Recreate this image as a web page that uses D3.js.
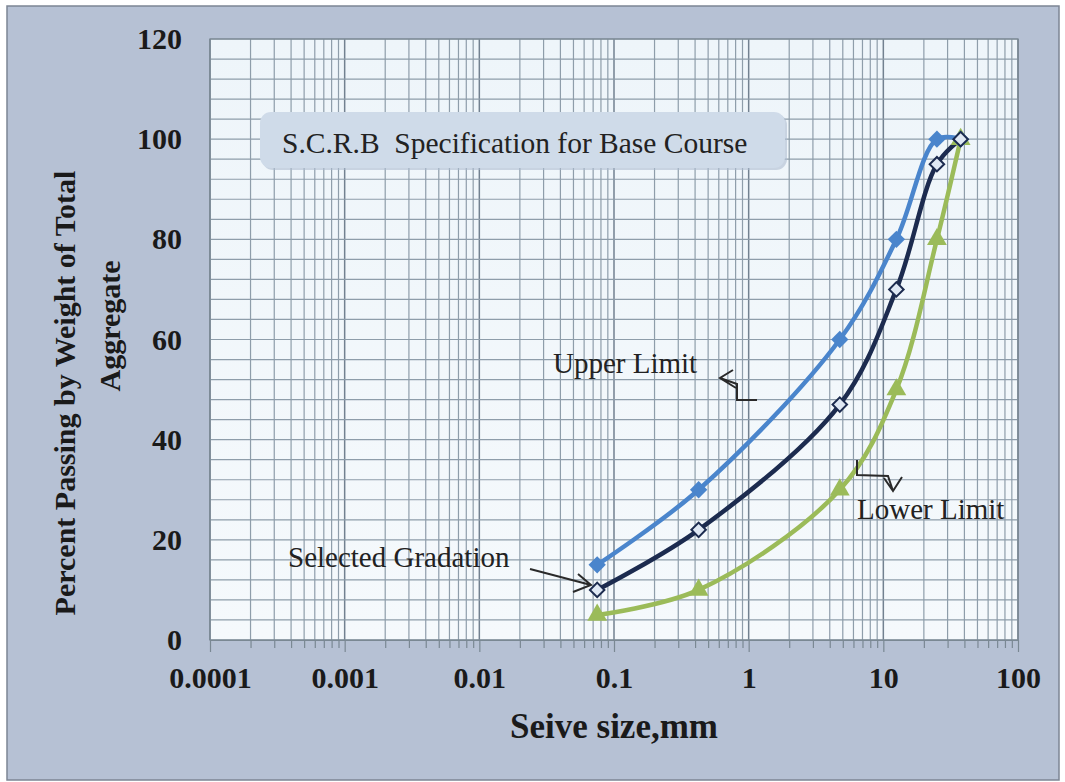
<!DOCTYPE html>
<html><head><meta charset="utf-8">
<script src="https://cdn.jsdelivr.net/npm/d3@7"></script>
<style>body{margin:0;background:#fff}svg{display:block}</style>
</head><body>
<svg id="c" width="1065" height="782"></svg>
<script>
// ---- data ----
const sieveSizes = [0.075, 0.425, 4.75, 12.5, 25, 37.5];
const upperLimit = [15, 30, 60, 80, 100, 100];
const selectedGradation = [10, 22, 47, 70, 95, 100];
const lowerLimit = [5, 10, 30, 50, 80, 100];
const xTickValues = [0.0001, 0.001, 0.01, 0.1, 1, 10, 100];
const xTickLabels = ["0.0001", "0.001", "0.01", "0.1", "1", "10", "100"];
const yTickValues = [0, 20, 40, 60, 80, 100, 120];
const titleText = "S.C.R.B  Specification for Base Course";
const xTitle = "Seive size,mm";
const yTitleLines = ["Percent Passing by Weight of Total", "Aggregate"];

// ---- layout ----
const L = 210, R = 1018, T = 39, B = 640;
const svg = d3.select("#c");
const serif = "'Liberation Serif','Times New Roman',serif";

const x = d3.scaleLog().domain([1e-4, 100]).range([L, R]);
const y = d3.scaleLinear().domain([0, 120]).range([B, T]);

// outer frame
svg.append("rect").attr("x", 7).attr("y", 6).attr("width", 1052).attr("height", 774)
  .attr("fill", "#b6c1d4").attr("stroke", "#7c8594").attr("stroke-width", 1.5);

// plot area
const defs = svg.append("defs");
const g = defs.append("linearGradient").attr("id", "pg").attr("x1", 0).attr("y1", 0).attr("x2", 0).attr("y2", 1);
g.append("stop").attr("offset", "0%").attr("stop-color", "#eef5fa");
g.append("stop").attr("offset", "100%").attr("stop-color", "#f5f9fc");
svg.append("rect").attr("x", L).attr("y", T).attr("width", R - L).attr("height", B - T).attr("fill", "url(#pg)");

// grid
const minorX = x.ticks();
const isDecade = d => Math.abs(Math.log10(d) - Math.round(Math.log10(d))) < 1e-9;
svg.append("g").selectAll("line").data(minorX).join("line")
  .attr("x1", d => x(d)).attr("x2", d => x(d)).attr("y1", T).attr("y2", B)
  .attr("stroke", d => isDecade(d) ? "#728190" : "#8e9daa")
  .attr("stroke-width", d => isDecade(d) ? 1.5 : 1.2);
svg.append("g").selectAll("line").data(d3.range(0, 121, 4)).join("line")
  .attr("x1", L).attr("x2", R).attr("y1", d => y(d)).attr("y2", d => y(d))
  .attr("stroke", "#8e9daa").attr("stroke-width", 1.2);
svg.append("rect").attr("x", L).attr("y", T).attr("width", R - L).attr("height", B - T)
  .attr("fill", "none").attr("stroke", "#7a8893").attr("stroke-width", 1.3);

// x axis
const xa = svg.append("g").attr("transform", `translate(0,${B})`)
  .call(d3.axisBottom(x).tickValues(minorX).tickSize(8).tickPadding(19)
    .tickFormat(d => { const i = xTickValues.findIndex(v => Math.abs(v - d) / v < 1e-9); return i >= 0 ? xTickLabels[i] : ""; }));
xa.select(".domain").attr("stroke", "#7a8893");
xa.selectAll(".tick line").attr("stroke", "#7a8893").attr("stroke-width", 1.2)
  .attr("y2", d => isDecade(d) ? 12 : 8);
xa.selectAll("text").attr("font-family", serif).attr("font-size", 30).attr("font-weight", "bold").attr("fill", "#1a1a1a");

// y axis
const ya = svg.append("g").attr("transform", `translate(${L},0)`)
  .call(d3.axisLeft(y).tickValues(yTickValues).tickSize(0).tickPadding(28));
ya.select(".domain").remove();
ya.selectAll("text").attr("font-family", serif).attr("font-size", 30).attr("font-weight", "bold").attr("fill", "#1a1a1a");

// axis titles
svg.append("text").attr("x", 614).attr("y", 738).attr("text-anchor", "middle")
  .attr("font-family", serif).attr("font-size", 35).attr("font-weight", "bold").attr("fill", "#1a1a1a").text(xTitle);
svg.append("text").attr("transform", "translate(75,393) rotate(-90)").attr("text-anchor", "middle")
  .attr("font-family", serif).attr("font-size", 30).attr("font-weight", "bold").attr("fill", "#1a1a1a").text(yTitleLines[0]);
svg.append("text").attr("transform", "translate(120,326) rotate(-90)").attr("text-anchor", "middle")
  .attr("font-family", serif).attr("font-size", 30).attr("font-weight", "bold").attr("fill", "#1a1a1a").text(yTitleLines[1]);

// title box
svg.append("rect").attr("x", 262).attr("y", 114).attr("width", 525).attr("height", 56).attr("rx", 11)
  .attr("fill", "#aebdd0").attr("opacity", 0.6);
svg.append("rect").attr("x", 260).attr("y", 112).attr("width", 525).attr("height", 56).attr("rx", 11)
  .attr("fill", "#cfdbe9");
svg.append("text").attr("x", 282).attr("y", 153).attr("font-family", serif).attr("font-size", 29.5)
  .attr("fill", "#222").attr("xml:space", "preserve").style("white-space", "pre").text(titleText);

// series
const series = [
  { name: "Lower Limit", vals: lowerLimit, color: "#9bbb59", type: "tri" },
  { name: "Upper Limit", vals: upperLimit, color: "#4a85cc", type: "dia" },
  { name: "Selected Gradation", vals: selectedGradation, color: "#1c2b4f", type: "open" }
];
const line = d3.line().x(d => x(d[0])).y(d => y(d[1])).curve(d3.curveCatmullRom.alpha(0.5));
series.forEach(s => {
  const pts = sieveSizes.map((v, i) => [v, s.vals[i]]);
  svg.append("path").datum(pts).attr("d", line).attr("fill", "none")
    .attr("stroke", s.color).attr("stroke-width", 4.5).attr("stroke-linejoin", "round");
});
series.forEach(s => {
  const pts = sieveSizes.map((v, i) => [v, s.vals[i]]);
  const gg = svg.append("g");
  if (s.type === "tri") {
    gg.selectAll("path").data(pts).join("path")
      .attr("d", d3.symbol(d3.symbolTriangle, 170))
      .attr("transform", d => `translate(${x(d[0])},${y(d[1])})`)
      .attr("fill", s.color);
  } else if (s.type === "dia") {
    gg.selectAll("path").data(pts).join("path")
      .attr("d", d3.symbol(d3.symbolSquare, 150))
      .attr("transform", d => `translate(${x(d[0])},${y(d[1])}) rotate(45)`)
      .attr("fill", s.color);
  } else {
    gg.selectAll("path").data(pts).join("path")
      .attr("d", d3.symbol(d3.symbolSquare, 105))
      .attr("transform", d => `translate(${x(d[0])},${y(d[1])}) rotate(45)`)
      .attr("fill", "#dfe8f4").attr("stroke", s.color).attr("stroke-width", 2);
  }
});

// annotations
const ann = svg.append("g").attr("font-family", serif).attr("font-size", 29).attr("fill", "#222");
ann.append("text").attr("x", 553).attr("y", 373).text("Upper Limit");
ann.append("text").attr("x", 857).attr("y", 519).text("Lower Limit");
ann.append("text").attr("x", 288).attr("y", 567).text("Selected Gradation");
const st = { fill: "none", stroke: "#2a2a2a", "stroke-width": 2 };
function pl(d) { const p = svg.append("path").attr("d", d); Object.entries(st).forEach(([k, v]) => p.attr(k, v)); }
pl("M757,400 L737,400 L737,384 L720,378 M733,370 L720,378 L736,388");
pl("M857,460 L857,475 L888,476 L893,491 M884,478 L893,491 L902,477");
pl("M530,569 L591,585 M578,574 L591,585 L573,592");
</script>
</body></html>
